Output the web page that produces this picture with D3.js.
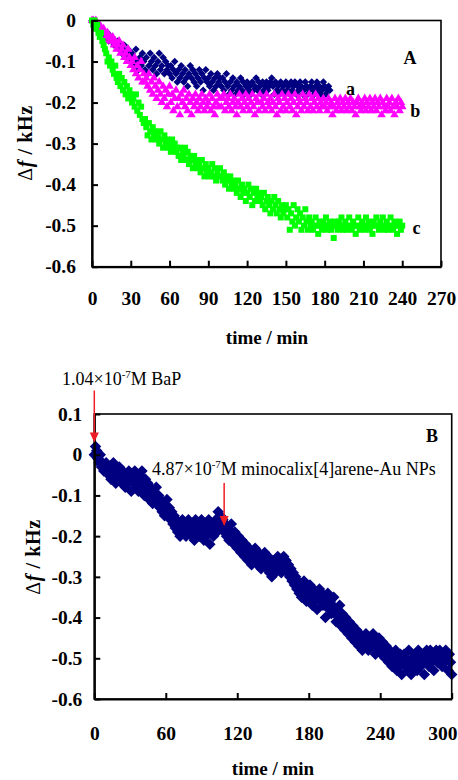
<!DOCTYPE html>
<html>
<head>
<meta charset="utf-8">
<script src="https://cdn.jsdelivr.net/npm/d3@7"></script>
<style>
	body { margin: 0; background: #fff; }
	svg { display: block; font-family: "Liberation Serif", "Times New Roman", serif; }
</style>
</head>
<body>
<div id="graphic"></div>
<script>

// one plotted reading per minute, starting at t = 0
const stepA = 1;
const stepB = 1;

// panel A, curve a (navy), kHz
const series_a = [
	0,0,-0.01,-0.01,-0.02,-0.01,-0.02,-0.03,-0.02,-0.03,
	-0.03,-0.04,-0.03,-0.05,-0.04,-0.04,-0.05,-0.06,-0.05,-0.06,
	-0.05,-0.07,-0.06,-0.08,-0.07,-0.06,-0.08,-0.09,-0.07,-0.08,
	-0.10,-0.08,-0.09,-0.11,-0.07,-0.10,-0.12,-0.09,-0.11,-0.08,
	-0.10,-0.12,-0.09,-0.13,-0.11,-0.08,-0.10,-0.12,-0.09,-0.11,
	-0.13,-0.10,-0.08,-0.12,-0.11,-0.09,-0.13,-0.10,-0.12,-0.11,
	-0.13,-0.11,-0.14,-0.12,-0.10,-0.13,-0.15,-0.12,-0.14,-0.11,
	-0.13,-0.15,-0.12,-0.14,-0.16,-0.13,-0.11,-0.14,-0.12,-0.15,
	-0.13,-0.16,-0.14,-0.12,-0.15,-0.13,-0.17,-0.14,-0.12,-0.15,
	-0.14,-0.16,-0.13,-0.15,-0.17,-0.14,-0.16,-0.13,-0.15,-0.14,
	-0.16,-0.14,-0.17,-0.15,-0.13,-0.16,-0.18,-0.15,-0.17,-0.14,
	-0.16,-0.18,-0.15,-0.17,-0.16,-0.14,-0.17,-0.15,-0.18,-0.16,
	-0.15,-0.17,-0.16,-0.18,-0.15,-0.17,-0.16,-0.14,-0.17,-0.15,
	-0.16,-0.18,-0.15,-0.17,-0.16,-0.15,-0.17,-0.16,-0.15,-0.14,
	-0.16,-0.18,-0.15,-0.17,-0.16,-0.18,-0.15,-0.17,-0.16,-0.18,
	-0.15,-0.17,-0.16,-0.18,-0.15,-0.17,-0.16,-0.15,-0.18,-0.16,
	-0.17,-0.15,-0.16,-0.18,-0.17,-0.15,-0.16,-0.18,-0.17,-0.16,
	-0.15,-0.17,-0.18,-0.16,-0.15,-0.17,-0.16,-0.18,-0.17,-0.15,
	-0.16,-0.18,-0.17,-0.16,-0.17
];

// panel A, curve b (magenta)
const series_b = [
	0,0,-0.01,0,-0.01,-0.02,-0.01,-0.02,-0.03,-0.02,
	-0.03,-0.04,-0.03,-0.05,-0.04,-0.05,-0.04,-0.06,-0.05,-0.07,
	-0.06,-0.05,-0.08,-0.07,-0.06,-0.09,-0.08,-0.10,-0.07,-0.09,
	-0.11,-0.10,-0.12,-0.09,-0.13,-0.11,-0.14,-0.12,-0.10,-0.15,
	-0.13,-0.15,-0.14,-0.16,-0.13,-0.17,-0.15,-0.18,-0.14,-0.16,
	-0.19,-0.17,-0.15,-0.18,-0.20,-0.16,-0.19,-0.17,-0.21,-0.18,
	-0.16,-0.20,-0.18,-0.22,-0.19,-0.17,-0.21,-0.19,-0.23,-0.18,
	-0.20,-0.17,-0.21,-0.19,-0.22,-0.18,-0.20,-0.23,-0.19,-0.21,
	-0.18,-0.20,-0.22,-0.19,-0.21,-0.18,-0.20,-0.22,-0.19,-0.21,
	-0.20,-0.18,-0.22,-0.19,-0.21,-0.23,-0.20,-0.18,-0.21,-0.19,
	-0.21,-0.19,-0.18,-0.22,-0.20,-0.19,-0.21,-0.18,-0.22,-0.20,
	-0.19,-0.21,-0.23,-0.20,-0.18,-0.21,-0.19,-0.22,-0.20,-0.18,
	-0.21,-0.19,-0.22,-0.20,-0.18,-0.21,-0.23,-0.19,-0.20,-0.22,
	-0.18,-0.20,-0.21,-0.19,-0.22,-0.18,-0.20,-0.21,-0.19,-0.22,
	-0.20,-0.18,-0.21,-0.23,-0.19,-0.20,-0.22,-0.18,-0.21,-0.19,
	-0.22,-0.20,-0.18,-0.21,-0.19,-0.22,-0.20,-0.18,-0.23,-0.21,
	-0.19,-0.20,-0.22,-0.18,-0.21,-0.19,-0.20,-0.22,-0.18,-0.21,
	-0.19,-0.22,-0.20,-0.18,-0.21,-0.19,-0.22,-0.20,-0.21,-0.19,
	-0.21,-0.20,-0.22,-0.19,-0.21,-0.20,-0.23,-0.21,-0.19,-0.22,
	-0.20,-0.21,-0.19,-0.22,-0.20,-0.21,-0.19,-0.22,-0.20,-0.21,
	-0.19,-0.22,-0.20,-0.21,-0.23,-0.20,-0.19,-0.21,-0.22,-0.20,
	-0.21,-0.19,-0.22,-0.20,-0.21,-0.19,-0.22,-0.20,-0.21,-0.19,
	-0.22,-0.20,-0.21,-0.19,-0.23,-0.20,-0.21,-0.22,-0.19,-0.21,
	-0.20,-0.22,-0.19,-0.21,-0.23,-0.20,-0.21,-0.19,-0.22,-0.20,
	-0.21
];

// panel A, curve c (green)
const series_c = [
	0,-0.01,0,-0.02,-0.01,-0.03,-0.04,-0.03,-0.05,-0.06,
	-0.07,-0.08,-0.10,-0.09,-0.11,-0.10,-0.12,-0.13,-0.11,-0.14,
	-0.15,-0.13,-0.16,-0.14,-0.17,-0.15,-0.18,-0.16,-0.19,-0.17,
	-0.18,-0.20,-0.19,-0.21,-0.18,-0.22,-0.20,-0.23,-0.21,-0.24,
	-0.25,-0.24,-0.26,-0.28,-0.25,-0.27,-0.29,-0.26,-0.28,-0.27,
	-0.29,-0.28,-0.30,-0.27,-0.29,-0.31,-0.28,-0.30,-0.29,-0.31,
	-0.30,-0.32,-0.29,-0.31,-0.30,-0.32,-0.31,-0.33,-0.31,-0.34,
	-0.32,-0.33,-0.31,-0.34,-0.32,-0.35,-0.33,-0.34,-0.36,-0.33,
	-0.35,-0.34,-0.36,-0.35,-0.37,-0.34,-0.36,-0.38,-0.35,-0.37,
	-0.36,-0.38,-0.37,-0.35,-0.38,-0.36,-0.39,-0.37,-0.38,-0.36,
	-0.38,-0.39,-0.37,-0.40,-0.38,-0.39,-0.41,-0.38,-0.40,-0.39,
	-0.41,-0.40,-0.42,-0.39,-0.41,-0.43,-0.40,-0.42,-0.41,-0.44,
	-0.42,-0.40,-0.43,-0.41,-0.45,-0.42,-0.44,-0.41,-0.43,-0.42,
	-0.44,-0.43,-0.45,-0.42,-0.46,-0.44,-0.43,-0.45,-0.47,-0.44,
	-0.46,-0.43,-0.45,-0.47,-0.44,-0.46,-0.48,-0.45,-0.47,-0.46,
	-0.45,-0.48,-0.46,-0.51,-0.47,-0.49,-0.45,-0.50,-0.48,-0.46,
	-0.49,-0.47,-0.51,-0.48,-0.50,-0.46,-0.49,-0.51,-0.48,-0.50,
	-0.49,-0.51,-0.50,-0.48,-0.50,-0.52,-0.49,-0.50,-0.51,-0.49,
	-0.50,-0.48,-0.51,-0.50,-0.49,-0.51,-0.50,-0.53,-0.49,-0.50,
	-0.51,-0.49,-0.50,-0.48,-0.51,-0.50,-0.49,-0.51,-0.50,-0.48,
	-0.50,-0.51,-0.49,-0.50,-0.52,-0.50,-0.48,-0.51,-0.50,-0.49,
	-0.50,-0.51,-0.48,-0.50,-0.49,-0.51,-0.50,-0.52,-0.49,-0.50,
	-0.48,-0.50,-0.51,-0.49,-0.50,-0.48,-0.51,-0.50,-0.49,-0.51,
	-0.50,-0.48,-0.50,-0.51,-0.49,-0.50,-0.52,-0.50,-0.49,-0.51,
	-0.50
];

// panel B (navy)
const series_B = [
	0.00,0.02,0.01,-0.01,-0.02,0.00,-0.03,-0.02,-0.04,-0.03,
	-0.02,-0.04,-0.05,-0.03,-0.06,-0.04,-0.02,-0.05,-0.07,-0.04,
	-0.06,-0.03,-0.05,-0.07,-0.04,-0.06,-0.08,-0.05,-0.07,-0.04,
	-0.06,-0.09,-0.05,-0.07,-0.04,-0.08,-0.06,-0.09,-0.05,-0.07,
	-0.04,-0.08,-0.10,-0.06,-0.09,-0.07,-0.11,-0.08,-0.10,-0.12,
	-0.09,-0.11,-0.08,-0.12,-0.10,-0.13,-0.11,-0.14,-0.12,-0.15,
	-0.13,-0.11,-0.15,-0.13,-0.16,-0.14,-0.17,-0.15,-0.18,-0.16,
	-0.19,-0.17,-0.20,-0.18,-0.16,-0.19,-0.17,-0.20,-0.18,-0.16,
	-0.19,-0.17,-0.20,-0.18,-0.21,-0.16,-0.19,-0.17,-0.20,-0.18,
	-0.16,-0.19,-0.21,-0.17,-0.20,-0.18,-0.16,-0.22,-0.19,-0.17,
	-0.20,-0.18,-0.16,-0.19,-0.14,-0.17,-0.15,-0.18,-0.16,-0.19,
	-0.17,-0.20,-0.18,-0.21,-0.19,-0.17,-0.20,-0.22,-0.19,-0.21,
	-0.23,-0.20,-0.22,-0.24,-0.21,-0.23,-0.25,-0.22,-0.24,-0.26,
	-0.23,-0.25,-0.27,-0.24,-0.26,-0.23,-0.25,-0.27,-0.24,-0.26,
	-0.28,-0.25,-0.27,-0.24,-0.26,-0.28,-0.25,-0.29,-0.27,-0.30,
	-0.28,-0.26,-0.29,-0.27,-0.25,-0.28,-0.26,-0.29,-0.27,-0.25,
	-0.28,-0.26,-0.29,-0.27,-0.30,-0.28,-0.31,-0.29,-0.32,-0.30,
	-0.33,-0.31,-0.34,-0.32,-0.35,-0.33,-0.31,-0.34,-0.36,-0.33,
	-0.35,-0.32,-0.34,-0.37,-0.33,-0.36,-0.34,-0.38,-0.35,-0.33,
	-0.36,-0.34,-0.37,-0.35,-0.40,-0.36,-0.34,-0.38,-0.36,-0.39,
	-0.37,-0.35,-0.39,-0.41,-0.38,-0.40,-0.37,-0.42,-0.39,-0.41,
	-0.43,-0.40,-0.42,-0.44,-0.41,-0.43,-0.45,-0.42,-0.44,-0.46,
	-0.43,-0.45,-0.47,-0.44,-0.46,-0.48,-0.45,-0.47,-0.44,-0.46,
	-0.48,-0.45,-0.47,-0.46,-0.44,-0.47,-0.49,-0.46,-0.48,-0.45,
	-0.47,-0.49,-0.46,-0.48,-0.50,-0.47,-0.49,-0.51,-0.48,-0.50,
	-0.52,-0.49,-0.51,-0.48,-0.53,-0.50,-0.52,-0.49,-0.54,-0.51,
	-0.49,-0.52,-0.50,-0.53,-0.48,-0.51,-0.54,-0.50,-0.52,-0.49,
	-0.51,-0.53,-0.48,-0.50,-0.52,-0.49,-0.51,-0.54,-0.50,-0.48,
	-0.50,-0.52,-0.48,-0.51,-0.49,-0.53,-0.50,-0.48,-0.51,-0.49,
	-0.48,-0.50,-0.52,-0.49,-0.51,-0.48,-0.50,-0.53,-0.49,-0.51,
	-0.54
];

const xTicksA = [ 0, 30, 60, 90, 120, 150, 180, 210, 240, 270 ];
const yTicksA = [ 0, -0.1, -0.2, -0.3, -0.4, -0.5, -0.6 ];
const xTicksB = [ 0, 60, 120, 180, 240, 300 ];
const yTicksB = [ 0.1, 0, -0.1, -0.2, -0.3, -0.4, -0.5, -0.6 ];

const curveNames = [ "a", "b", "c" ];
const colors = { a: "#000080", b: "#ff00ff", c: "#00ff00", B: "#000080" };

// additions marked in panel B: time (min) and where the arrow lands (kHz)
const addTimes = [ 0, 109 ];
const addTips = [ 0.03, -0.175 ];

///////////////////////////////////////////////////////////////////////

const W = 458, H = 780;

const svg = d3.select( "#graphic" )
	.append( "svg" )
		.attr( "width", W )
		.attr( "height", H );

svg.append( "rect" ).attr( "width", W ).attr( "height", H ).attr( "fill", "#fff" );

// a rotated square, like the spreadsheet's diamond marker
const diamond = {
	draw( ctx, size ) {
		const r = Math.sqrt( size / 2 );
		ctx.moveTo( 0, -r );
		ctx.lineTo( r, 0 );
		ctx.lineTo( 0, r );
		ctx.lineTo( -r, 0 );
		ctx.closePath();
	}
};

const tickFmt = d => d === 0 ? "0" : d.toFixed( 1 );

function frame( g, x, y, xticks, yticks, xpad, ypad )	{

	const [ x0, x1 ] = x.range();
	const [ y0, y1 ] = y.range();

	g.append( "rect" )
		.attr( "x", x0 ).attr( "y", y1 )
		.attr( "width", x1 - x0 ).attr( "height", y0 - y1 )
		.attr( "fill", "none" )
		.attr( "stroke", "#000" )
		.attr( "stroke-width", 1.6 );

	const gx = g.append( "g" )
		.attr( "transform", `translate(0,${ y0 })` )
		.call( d3.axisBottom( x ).tickValues( xticks ).tickFormat( d3.format( "d" ) )
			.tickSizeInner( -6 ).tickSizeOuter( 0 ).tickPadding( xpad ) );

	const gy = g.append( "g" )
		.attr( "transform", `translate(${ x0 },0)` )
		.call( d3.axisLeft( y ).tickValues( yticks ).tickFormat( tickFmt )
			.tickSizeInner( -6 ).tickSizeOuter( 0 ).tickPadding( ypad ) );

	for( const ax of [ gx, gy ] )	{
		ax.select( ".domain" ).attr( "stroke-width", 2.2 );
		ax.selectAll( ".tick line" ).attr( "stroke-width", 2 );
		ax.selectAll( ".tick text" )
			.attr( "font-family", "Liberation Serif, serif" )
			.attr( "font-weight", "bold" )
			.attr( "font-size", 19.5 )
			.attr( "fill", "#000" );
	}
	return gx;
}

function yLabel( g, cx, cy )	{
	const t = g.append( "text" )
		.attr( "transform", `translate(${ cx },${ cy }) rotate(-90)` )
		.attr( "text-anchor", "middle" )
		.attr( "dy", "0.35em" )
		.attr( "font-weight", "bold" )
		.attr( "font-size", 20 )
		.attr( "letter-spacing", 0.6 );
	t.append( "tspan" ).attr( "font-weight", "normal" ).text( "\u0394" );
	t.append( "tspan" ).attr( "font-style", "italic" ).text( "f" );
	t.append( "tspan" ).text( " / kHz" );
}

function xLabel( g, cx, cy )	{
	g.append( "text" )
		.attr( "x", cx ).attr( "y", cy )
		.attr( "text-anchor", "middle" )
		.attr( "dy", "0.35em" )
		.attr( "font-weight", "bold" )
		.attr( "font-size", 19 )
		.text( "time / min" );
}

function points( g, vals, step, x, y, type, size, color )	{
	const sym = d3.symbol().type( type ).size( size );
	g.append( "g" )
		.selectAll( "path" )
		.data( vals )
		.join( "path" )
			.attr( "transform", ( d, i ) => `translate(${ x( i * step ) },${ y( d ) })` )
			.attr( "d", sym )
			.attr( "fill", color );
}

///////////////////////////////////////////////////////////////////////
// panel A

const xA = d3.scaleLinear( [ 0, 270 ], [ 92, 441 ] );
const yA = d3.scaleLinear( [ -0.6, 0 ], [ 266.7, 20.5 ] );

const gA = svg.append( "g" );

points( gA, series_a, stepA, xA, yA, diamond, 28, colors.a );
points( gA, series_b, stepA, xA, yA, d3.symbolTriangle, 32, colors.b );
points( gA, series_c, stepA, xA, yA, d3.symbolSquare, 36, colors.c );

frame( gA, xA, yA, xTicksA, yTicksA, 24, 16 );
yLabel( gA, 25, 143 );
xLabel( gA, 267, 337 );

gA.append( "text" )
	.attr( "x", 410 ).attr( "y", 64 )
	.attr( "text-anchor", "middle" )
	.attr( "font-weight", "bold" )
	.attr( "font-size", 18 )
	.text( "A" );

// curve names sit just right of each curve's tail
const nameAt = [ [ 200, -0.165 ], [ 250, -0.221 ], [ 251, -0.504 ] ];
gA.selectAll( "text.name" )
	.data( curveNames )
	.join( "text" )
		.attr( "class", "name" )
		.attr( "x", ( d, i ) => xA( nameAt[ i ][ 0 ] ) )
		.attr( "y", ( d, i ) => yA( nameAt[ i ][ 1 ] ) )
		.attr( "dy", "0.35em" )
		.attr( "text-anchor", "middle" )
		.attr( "font-weight", "bold" )
		.attr( "font-size", 18 )
		.text( d => d );

///////////////////////////////////////////////////////////////////////
// panel B

const xB = d3.scaleLinear( [ 0, 300 ], [ 94.3, 451.7 ] );
const yB = d3.scaleLinear( [ -0.6, 0.1 ], [ 699, 414 ] );

const gB = svg.append( "g" );

points( gB, series_B, stepB, xB, yB, diamond, 66, colors.B );

const gxB = frame( gB, xB, yB, xTicksB, yTicksB, 27, 12 );
// the last label runs to the page edge; keep it inside
gxB.selectAll( ".tick text" ).filter( d => d === 300 )
	.attr( "text-anchor", "end" )
	.attr( "x", W - 1 - xB( 300 ) );

yLabel( gB, 33, 557 );
xLabel( gB, 273, 768 );

gB.append( "text" )
	.attr( "x", 432 ).attr( "y", 442 )
	.attr( "text-anchor", "middle" )
	.attr( "font-weight", "bold" )
	.attr( "font-size", 18 )
	.text( "B" );

// red arrows for the two additions
const arrowLen = [ 52, 43 ];
addTimes.forEach( ( t, i ) => {
	const ax = xB( t ), ay = yB( addTips[ i ] );
	gB.append( "line" )
		.attr( "x1", ax ).attr( "x2", ax )
		.attr( "y1", ay - arrowLen[ i ] ).attr( "y2", ay - 8 )
		.attr( "stroke", "#ee1c24" )
		.attr( "stroke-width", 1.5 );
	gB.append( "path" )
		.attr( "d", `M${ ax - 4.5 },${ ay - 10 }L${ ax + 4.5 },${ ay - 10 }L${ ax },${ ay }Z` )
		.attr( "fill", "#ee1c24" );
} );

function note( g, x, y, conc, rest )	{
	const t = g.append( "text" )
		.attr( "x", x ).attr( "y", y )
		.attr( "font-size", 18 );
	t.append( "tspan" ).text( conc + "\u00d710" );
	t.append( "tspan" ).attr( "dy", -7 ).attr( "font-size", 11 ).text( "-7" );
	t.append( "tspan" ).attr( "dy", 7 ).text( rest );
}

note( gB, 62, 385, "1.04", "M BaP" );
note( gB, 152, 475, "4.87", "M minocalix[4]arene-Au NPs" );

</script>
</body>
</html>
